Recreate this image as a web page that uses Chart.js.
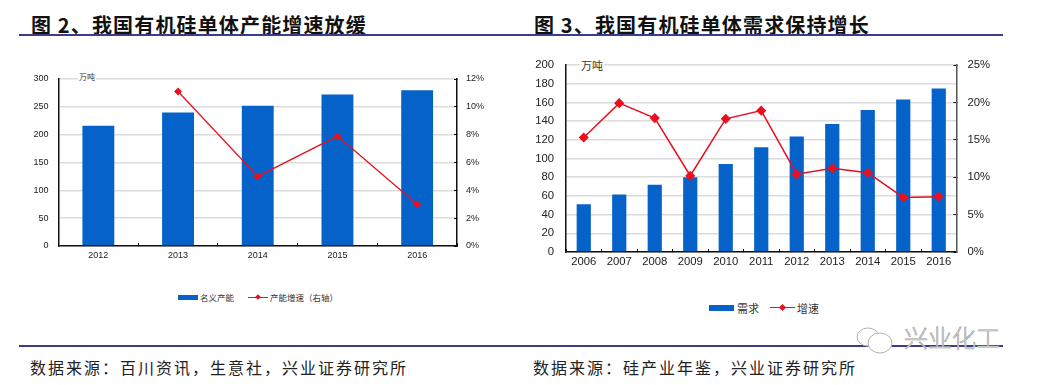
<!DOCTYPE html>
<html>
<head>
<meta charset="utf-8">
<script src="https://cdn.jsdelivr.net/npm/chart.js@4"></script>
<style>
html, body { margin: 0; padding: 0; background: #fff; }
#page { position: relative; width: 1037px; height: 385px; overflow: hidden; font-family: "Noto Sans CJK SC", sans-serif; }
#page div, #page canvas, #page svg { position: absolute; }
.title { top: 10px; font-size: 20px; font-weight: 700; letter-spacing: 1.15px; color: #111; white-space: pre; line-height: 30px; }
.source { top: 355px; font-size: 16px; letter-spacing: 2px; color: #222; white-space: pre; line-height: 24px; }
.rule { left: 19px; width: 984px; height: 2px; background: #3c3c8c; }
.unit { background: #fff; color: #333; white-space: pre; }
.legend { color: #333; white-space: pre; }
.swatch { background: #0462c8; }
.lineKey { background: #e8101f; }
.dot { background: #e8101f; transform: rotate(45deg); }
.mark { color: #fff; font-size: 24px; font-weight: 300; -webkit-text-stroke: 0.7px #a0a0a0; white-space: pre; line-height: 30px; }
</style>
</head>
<body>
<div id="page">
  <div class="title" style="left:31px">图 2&#x3001;我国有机硅单体产能增速放缓</div>
  <div class="title" style="left:534px">图 3&#x3001;我国有机硅单体需求保持增长</div>
  <div class="rule" style="top:34px"></div>
  <div class="rule" style="top:345px"></div>

  <canvas id="chart1" style="left:10px;top:61px;width:490px;height:210px"></canvas>
  <canvas id="chart2" style="left:520px;top:43px;width:490px;height:233px"></canvas>

  <div class="unit" style="left:78px;top:71px;font-size:8px;line-height:12px;padding:0 1px">万吨</div>
  <div class="unit" style="left:580px;top:57px;font-size:11px;line-height:16px;padding:0 1px">万吨</div>

  <div class="swatch" style="left:178px;top:295px;width:20px;height:5px"></div>
  <div class="legend" style="left:200px;top:291px;font-size:8.5px;line-height:13px">名义产能</div>
  <div class="lineKey" style="left:248px;top:297px;width:20px;height:1px"></div>
  <div class="dot" style="left:256px;top:295px;width:4px;height:4px"></div>
  <div class="legend" style="left:270px;top:291px;font-size:8.5px;line-height:13px">产能增速&#xFF08;右轴&#xFF09;</div>

  <div class="swatch" style="left:709px;top:305px;width:25px;height:6px"></div>
  <div class="legend" style="left:737px;top:300px;font-size:11px;line-height:16px">需求</div>
  <div class="lineKey" style="left:770px;top:307px;width:25px;height:1px"></div>
  <div class="dot" style="left:780px;top:305px;width:5px;height:5px"></div>
  <div class="legend" style="left:797px;top:300px;font-size:11px;line-height:16px">增速</div>

  <div class="source" style="left:30px">数据来源&#xFF1A;百川资讯&#xFF0C;生意社&#xFF0C;兴业证券研究所</div>
  <div class="source" style="left:533px">数据来源&#xFF1A;硅产业年鉴&#xFF0C;兴业证券研究所</div>

  <svg style="left:855px;top:325px" width="50" height="32" viewBox="0 0 50 32" fill="#fff" stroke="#b4b4b4" stroke-width="1">
    <ellipse cx="13" cy="12" rx="11" ry="9"></ellipse>
    <ellipse cx="25" cy="18" rx="12" ry="10"></ellipse>
  </svg>
  <div class="mark" style="left:904px;top:322px">兴业化工</div>
</div>

<script>
const capacityYears = ['2012', '2013', '2014', '2015', '2016'];
const capacityValues = [216, 240, 252, 272, 280];
const capacityGrowth = [null, 11.1, 5.0, 7.9, 3.0];

const demandYears = ['2006', '2007', '2008', '2009', '2010', '2011', '2012', '2013', '2014', '2015', '2016'];
const demandValues = [51, 61.5, 72, 80, 94, 112, 123.5, 137, 152, 163, 175];
const demandGrowth = [15.3, 19.9, 17.9, 10.2, 17.8, 18.9, 10.4, 11.2, 10.6, 7.3, 7.4];

const BLUE = '#0462c8';
const RED = '#e8101f';

function buildChart(id, o) {
    new Chart(document.getElementById(id).getContext('2d'), {
        type: 'bar',
        data: {
            labels: o.labels,
            datasets: [{
                type: 'line',
                label: o.lineName,
                data: o.line,
                yAxisID: 'y1',
                order: 0,
                borderColor: RED,
                backgroundColor: RED,
                borderWidth: o.lineWidth,
                pointStyle: 'rectRot',
                pointRadius: o.pointRadius,
                tension: 0,
                spanGaps: false
            }, {
                type: 'bar',
                label: o.barName,
                data: o.bars,
                yAxisID: 'y',
                order: 1,
                backgroundColor: BLUE,
                barPercentage: 0.4,
                categoryPercentage: 1
            }]
        },
        options: {
            responsive: false,
            animation: false,
            layout: { padding: { top: o.top, right: 0, bottom: 0, left: 0 } },
            plugins: { legend: { display: false }, tooltip: { enabled: false } },
            scales: {
                x: {
                    grid: { drawOnChartArea: false, color: '#111', tickLength: -3, tickWidth: 1 },
                    border: { color: '#111', width: 1.5 },
                    ticks: { color: '#222', font: { family: 'Liberation Sans', size: o.fontSize }, padding: o.xPad, maxRotation: 0, autoSkip: false },
                    afterFit: function(a) { a.height = o.xHeight; }
                },
                y: {
                    min: 0,
                    max: o.yMax,
                    ticks: { stepSize: o.yStep, autoSkip: false, color: '#222', font: { family: 'Liberation Sans', size: o.fontSize }, padding: o.yPad },
                    grid: { color: '#dcdcdc', lineWidth: 1.5, drawTicks: false },
                    border: { color: '#111', width: 1.5 },
                    afterFit: function(a) { a.width = o.leftW; }
                },
                y1: {
                    position: 'right',
                    min: 0,
                    max: o.rMax,
                    ticks: {
                        stepSize: o.rStep,
                        autoSkip: false,
                        color: '#222',
                        font: { family: 'Liberation Sans', size: o.fontSize },
                        padding: o.rPad,
                        callback: function(v) { return v + '%'; }
                    },
                    grid: { drawOnChartArea: false, color: '#111', tickLength: -3 },
                    border: { color: o.rightAxis, width: 1.5 },
                    afterFit: function(a) { a.width = o.rightW; }
                }
            }
        }
    });
}

document.addEventListener("DOMContentLoaded", function() {
    const c1 = document.getElementById('chart1'); c1.width = 490; c1.height = 210;
    const c2 = document.getElementById('chart2'); c2.width = 490; c2.height = 233;

    buildChart('chart1', {
        labels: capacityYears, bars: capacityValues, line: capacityGrowth,
        barName: '名义产能', lineName: '产能增速(右轴)',
        yMax: 300, yStep: 50, rMax: 12, rStep: 2,
        top: 18, leftW: 48.5, rightW: 43, xHeight: 25,
        fontSize: 9, xPad: 7, yPad: 10, rPad: 12,
        lineWidth: 1.3, pointRadius: 3, rightAxis: '#111'
    });
    buildChart('chart2', {
        labels: demandYears, bars: demandValues, line: demandGrowth,
        barName: '需求', lineName: '增速',
        yMax: 200, yStep: 20, rMax: 25, rStep: 5,
        top: 22, leftW: 46, rightW: 53.5, xHeight: 24,
        fontSize: 11.3, xPad: 6, yPad: 12, rPad: 14,
        lineWidth: 1.5, pointRadius: 4, rightAxis: '#555'
    });
});
</script>
</body>
</html>
